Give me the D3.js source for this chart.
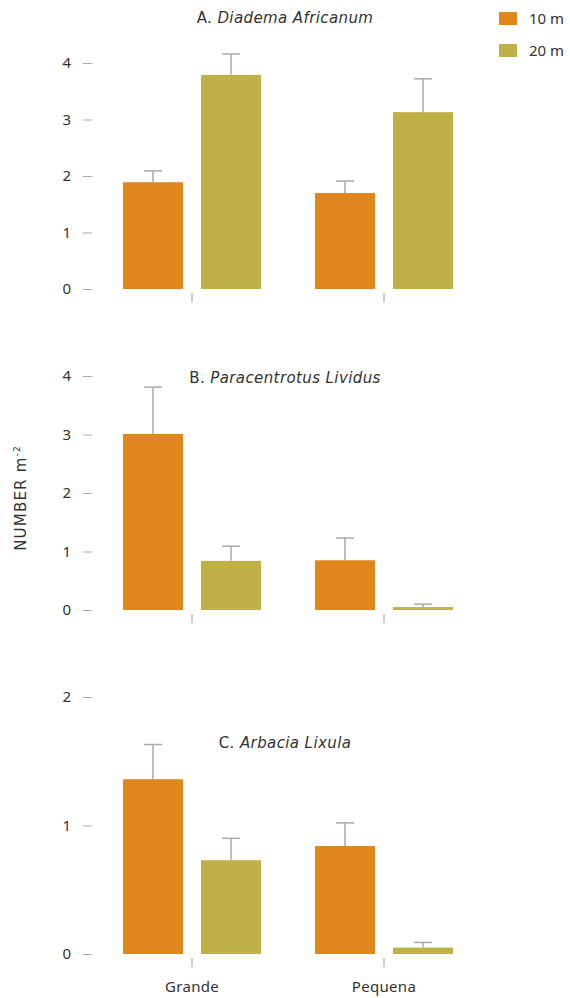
<!DOCTYPE html>
<html>
<head>
<meta charset="utf-8">
<script src="https://cdn.jsdelivr.net/npm/d3@7"></script>
<style>
  body { margin: 0; background: #fff; }
  svg text { font-family: "Noto Sans", sans-serif; fill: #333; }
  svg text.wide { font-family: "DejaVu Sans", sans-serif; }
</style>
</head>
<body>
<div id="chart"></div>
<script>
var categories = ["Grande", "Pequena"];
var depths = ["10 m", "20 m"];

// mean and upper error per panel, [category][depth]
var meansA = [[1.89, 3.79], [1.70, 3.13]];
var errA   = [[2.09, 4.16], [1.91, 3.72]];
var meansB = [[3.01, 0.84], [0.85, 0.05]];
var errB   = [[3.81, 1.09], [1.23, 0.10]];
var meansC = [[1.36, 0.73], [0.84, 0.05]];
var errC   = [[1.63, 0.90], [1.02, 0.09]];

var ticksA = [0, 1, 2, 3, 4];
var ticksB = [0, 1, 2, 3, 4];
var ticksC = [0, 1, 2];

var width = 570, height = 998;
var color = d3.scaleOrdinal().domain(depths).range(["#e0861a", "#c0b146"]);

var svg = d3.select("#chart").append("svg")
    .attr("width", width)
    .attr("height", height);

var x0 = d3.scaleBand().domain(categories).range([96, 480]);
var x1 = d3.scaleBand().domain(depths).range([0, x0.bandwidth()])
    .paddingInner(18 / 78).paddingOuter(27 / 78);

var panels = [
  { letter: "A. ", name: "Diadema Africanum", means: meansA, err: errA, ticks: ticksA, max: 4, top: 63, bottom: 289, titleY: 23 },
  { letter: "B. ", name: "Paracentrotus Lividus", means: meansB, err: errB, ticks: ticksB, max: 4, top: 376, bottom: 610, titleY: 383 },
  { letter: "C. ", name: "Arbacia Lixula", means: meansC, err: errC, ticks: ticksC, max: 2, top: 697, bottom: 954, titleY: 748 }
];

panels.forEach(function(p, pi) {
  var y = d3.scaleLinear().domain([0, p.max]).range([p.bottom, p.top]);
  var g = svg.append("g");

  var yAxis = g.append("g")
      .attr("transform", "translate(92,0)")
      .call(d3.axisLeft(y).tickValues(p.ticks).tickSize(9).tickPadding(12).tickFormat(d3.format("d")));
  yAxis.select(".domain").remove();
  yAxis.selectAll(".tick line").attr("stroke", "#aaa");
  yAxis.selectAll(".tick text").style("font-size", "15px").attr("fill", "#333");

  var xAxis = g.append("g")
      .attr("transform", "translate(0," + (p.bottom + 4) + ")")
      .call(d3.axisBottom(x0).tickSize(9).tickPadding(14));
  xAxis.select(".domain").remove();
  xAxis.selectAll(".tick line").attr("stroke", "#aaa").attr("stroke-width", 1.2);
  if (pi < 2) xAxis.selectAll(".tick text").remove();
  else xAxis.selectAll(".tick text").style("font-size", "15px").style("letter-spacing", "0.3px").attr("fill", "#333");

  var title = g.append("text")
      .attr("class", "wide")
      .attr("x", 285)
      .attr("y", p.titleY)
      .attr("text-anchor", "middle")
      .style("font-size", "15px")
      .style("letter-spacing", "0.4px");
  title.append("tspan").text(p.letter);
  title.append("tspan").style("font-style", "italic").text(p.name);

  var groups = g.selectAll(".cat")
      .data(categories)
      .enter().append("g")
      .attr("transform", function(d) { return "translate(" + x0(d) + ",0)"; });

  groups.each(function(cat, ci) {
    var cg = d3.select(this);
    var rows = depths.map(function(dep, di) {
      return { depth: dep, mean: p.means[ci][di], err: p.err[ci][di] };
    });

    cg.selectAll("line.err")
        .data(rows)
        .enter().append("line")
        .attr("class", "err")
        .attr("x1", function(d) { return x1(d.depth) + x1.bandwidth() / 2; })
        .attr("x2", function(d) { return x1(d.depth) + x1.bandwidth() / 2; })
        .attr("y1", function(d) { return y(d.mean); })
        .attr("y2", function(d) { return y(d.err); })
        .attr("stroke", "#aaa")
        .attr("stroke-width", 1.5);

    cg.selectAll("line.cap")
        .data(rows)
        .enter().append("line")
        .attr("class", "cap")
        .attr("x1", function(d) { return x1(d.depth) + x1.bandwidth() / 2 - 9; })
        .attr("x2", function(d) { return x1(d.depth) + x1.bandwidth() / 2 + 9; })
        .attr("y1", function(d) { return y(d.err); })
        .attr("y2", function(d) { return y(d.err); })
        .attr("stroke", "#aaa")
        .attr("stroke-width", 1.5);

    cg.selectAll("rect")
        .data(rows)
        .enter().append("rect")
        .attr("x", function(d) { return x1(d.depth); })
        .attr("width", x1.bandwidth())
        .attr("y", function(d) { return y(d.mean); })
        .attr("height", function(d) { return y(0) - y(d.mean); })
        .attr("fill", function(d) { return color(d.depth); });
  });
});

// y label
var ylab = svg.append("text")
    .attr("class", "wide")
    .attr("transform", "translate(26,498) rotate(-90)")
    .attr("text-anchor", "middle")
    .style("font-size", "15px")
    .style("letter-spacing", "1.2px");
ylab.append("tspan").text("NUMBER m");
ylab.append("tspan").attr("dy", -6).style("font-size", "9px").text("-2");

// legend
var legend = svg.append("g").selectAll("g")
    .data(depths)
    .enter().append("g")
    .attr("transform", function(d, i) { return "translate(499," + (12 + i * 32) + ")"; });
legend.append("rect")
    .attr("width", 18)
    .attr("height", 13)
    .attr("fill", function(d) { return color(d); });
legend.append("text")
    .attr("x", 30)
    .attr("y", 12)
    .style("font-size", "15px")
    .text(function(d) { return d; });
</script>
</body>
</html>
